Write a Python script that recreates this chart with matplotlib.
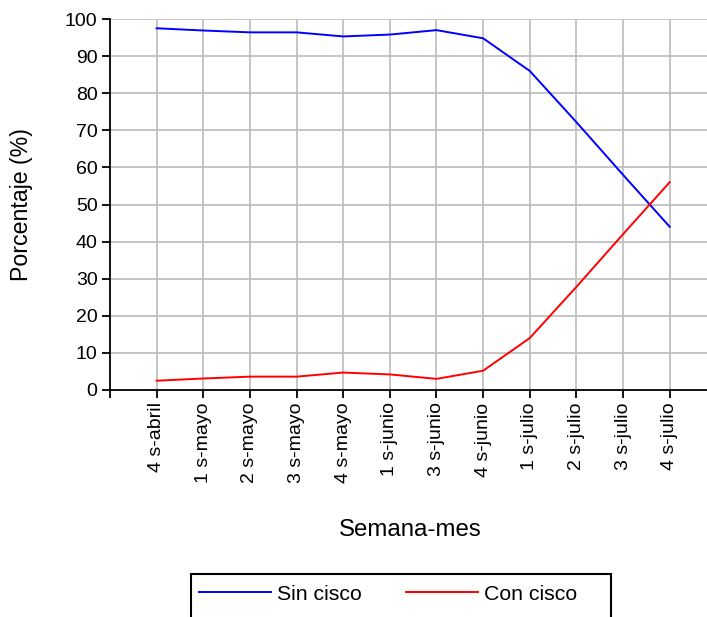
import numpy as np
import matplotlib.pyplot as plt
from matplotlib.patches import Rectangle

# Datos
semanas = ['4 s-abril', '1 s-mayo', '2 s-mayo', '3 s-mayo', '4 s-mayo', '1 s-junio',
           '3 s-junio', '4 s-junio', '1 s-julio', '2 s-julio', '3 s-julio', '4 s-julio']
sin_cisco = [97.5, 96.9, 96.4, 96.4, 95.3, 95.8, 97.0, 94.8, 86.0, 72.2, 58.0, 44.0]
con_cisco = [2.5, 3.1, 3.6, 3.6, 4.7, 4.2, 3.0, 5.2, 14.0, 27.8, 42.0, 56.0]

plt.rcParams['font.family'] = ['Liberation Sans', 'DejaVu Sans']

W, H = 707, 617
fig = plt.figure(figsize=(W / 100, H / 100), dpi=100)
ax = fig.add_axes([110 / W, 1 - 390 / H, 597 / W, 371 / H])

x = np.arange(len(semanas))
ax.plot(x, sin_cisco, color='#0000ff', lw=1.4, label='Sin cisco')
ax.plot(x, con_cisco, color='#ff0000', lw=1.4, label='Con cisco')

ax.set_xlim(-1, 11.8)
ax.set_ylim(0, 100)
ax.set_yticks(np.arange(0, 101, 10))
ax.set_xticks(np.arange(-1, len(semanas)))
ax.set_xticklabels([''] + semanas, rotation=90)
ax.tick_params(labelsize=14, length=6, width=1.3, direction='out', color='black', pad=3)

# Rejilla gris
for xi in x:
    ax.axvline(xi, color='#c0c0c0', lw=1.3, zorder=0)
for yi in np.arange(10, 101, 10):
    ax.axhline(yi, color='#c0c0c0', lw=1.3, zorder=0)

ax.spines['top'].set_visible(False)
ax.spines['right'].set_visible(False)
ax.spines['left'].set_linewidth(1.3)
ax.spines['bottom'].set_linewidth(1.3)

fig.text(410 / W, 1 - 530 / H, 'Semana-mes', fontsize=17.3, ha='center', va='center')
fig.text(22 / W, 1 - 205 / H, 'Porcentaje (%)', fontsize=16.7, ha='center', va='center',
         rotation=90)

# Leyenda: caja cortada por el borde inferior
fig.patches.append(Rectangle((191 / W, -0.05), 420 / W, 0.05 + (H - 574) / H,
                             transform=fig.transFigure, fill=False, edgecolor='black',
                             lw=1.5))
fig.legend(loc='center left', bbox_to_anchor=(199 / W, 1 - 594 / H), ncol=2,
           fontsize=15.3, handlelength=3.4, handletextpad=0.25, columnspacing=2.1,
           borderaxespad=0, borderpad=0, frameon=False)

fig.savefig('out.png', dpi=100)
